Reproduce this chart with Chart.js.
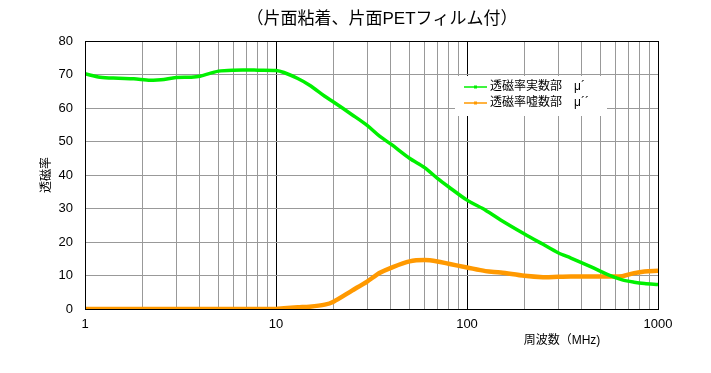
<!DOCTYPE html>
<html>
<head>
<meta charset="utf-8">
<script src="https://cdn.jsdelivr.net/npm/chart.js@4"></script>
<style>
  body { margin: 0; background: #fff; }
  #wrap { width: 711px; height: 373px; }
</style>
</head>
<body>
<div id="wrap"><canvas id="myChart" width="711" height="373"></canvas></div>
<script>
// data
const freq   = [1, 1.2, 1.5, 1.8, 2.2, 2.5, 3, 3.6, 4, 5, 6, 8, 10, 11, 13, 15, 18, 20, 25, 30, 35, 40, 50, 60, 70, 80, 100, 125, 150, 200, 250, 300, 350, 450, 550, 650, 750, 850, 1000];
const muReal = [70.2, 69.2, 68.9, 68.7, 68.3, 68.4, 69.1, 69.2, 69.5, 71.0, 71.3, 71.3, 71.2, 70.6, 68.8, 66.8, 63.5, 61.8, 58.0, 54.8, 51.5, 49.2, 45.0, 42.2, 39.0, 36.5, 32.5, 29.5, 26.6, 22.4, 19.3, 16.8, 15.2, 12.5, 10.2, 8.7, 8.0, 7.6, 7.3];
const muImag = [0, 0, 0, 0, 0, 0, 0, 0, 0, 0, 0, 0, 0, 0.2, 0.5, 0.7, 1.3, 2.2, 5.5, 8.2, 10.8, 12.3, 14.2, 14.6, 14.2, 13.5, 12.4, 11.3, 10.9, 9.9, 9.5, 9.6, 9.7, 9.7, 9.7, 9.8, 10.7, 11.2, 11.4];
const xTicks = [1,2,3,4,5,6,7,8,9,10,20,30,40,50,60,70,80,90,100,200,300,400,500,600,700,800,900,1000];
const yTicks = [0, 10, 20, 30, 40, 50, 60, 70, 80];

const chartTitle = "（片面粘着、片面PETフィルム付）";
const xTitle = "周波数（MHz)";
const yTitle = "透磁率";
const seriesNames = ["透磁率実数部　μ´", "透磁率嘘数部　μ´´"];
const seriesColors = ["#00f000", "#ff9900"];

const FONT = '"Liberation Sans", "Noto Sans CJK JP", sans-serif';
Chart.defaults.font.family = FONT;
Chart.defaults.font.size = 12;
Chart.defaults.color = "#000";

function isDecade(v) {
    return [1, 10, 100, 1000].includes(v);
}

// titles, frame and legend drawn on top
const extras = {
    id: "extras",
    afterDraw(chart) {
        const c = chart.ctx;
        const a = chart.chartArea;
        c.save();
        c.strokeStyle = "#000";
        c.lineWidth = 1;
        c.strokeRect(a.left + 0.5, a.top + 0.5, a.right - a.left, a.bottom - a.top);

        c.fillStyle = "#000";
        c.textAlign = "center";
        c.textBaseline = "middle";
        c.font = "17px " + FONT;
        c.fillText(chartTitle, 382, 19);

        c.font = "12px " + FONT;
        c.fillText(xTitle, 562, 341);

        c.save();
        c.translate(47, 175);
        c.rotate(-Math.PI / 2);
        c.fillText(yTitle, 0, 0);
        c.restore();

        // legend
        c.fillStyle = "#fff";
        c.fillRect(455, 76, 152, 40);
        c.textAlign = "left";
        seriesNames.forEach((name, i) => {
            const y = 87 + i * 16;
            c.strokeStyle = seriesColors[i];
            c.lineWidth = 1.5;
            c.beginPath();
            c.moveTo(464, y);
            c.lineTo(487, y);
            c.stroke();
            c.fillStyle = seriesColors[i];
            c.fillRect(474, y - 1.5, 3, 3);
            c.fillStyle = "#000";
            c.fillText(name, 490, y);
        });
        c.restore();
    }
};

const ctx = document.getElementById("myChart").getContext("2d");
const myChart = new Chart(ctx, {
    type: "line",
    data: {
        datasets: [
            {
                label: seriesNames[0],
                data: freq.map((f, i) => ({ x: f, y: muReal[i] })),
                borderColor: seriesColors[0],
                borderWidth: 3.5,
                pointRadius: 0,
                tension: 0.3
            },
            {
                label: seriesNames[1],
                data: freq.map((f, i) => ({ x: f, y: muImag[i] })),
                borderColor: seriesColors[1],
                borderWidth: 4.5,
                pointRadius: 0,
                tension: 0.3
            }
        ]
    },
    options: {
        responsive: false,
        animation: false,
        layout: { padding: { left: 0, right: 53, top: 41, bottom: 0 } },
        plugins: {
            legend: { display: false },
            title: { display: false },
            tooltip: { enabled: false }
        },
        scales: {
            x: {
                type: "logarithmic",
                min: 1,
                max: 1000,
                afterBuildTicks: s => { s.ticks = xTicks.map(v => ({ value: v })); },
                afterFit: s => { s.height = 64; },
                ticks: {
                    autoSkip: false,
                    maxRotation: 0,
                    padding: 8,
                    font: { size: 13 },
                    callback: v => isDecade(v) ? String(v) : ""
                },
                grid: {
                    drawTicks: false,
                    color: c => (c.tick && isDecade(c.tick.value)) ? "#000" : "#999"
                },
                border: { color: "#000" }
            },
            y: {
                min: 0,
                max: 80,
                afterBuildTicks: s => { s.ticks = yTicks.map(v => ({ value: v })); },
                afterFit: s => { s.width = 85; },
                ticks: { padding: 12, font: { size: 13 } },
                grid: { drawTicks: false, color: "#999" },
                border: { color: "#000" }
            }
        }
    },
    plugins: [extras]
});
</script>
</body>
</html>
